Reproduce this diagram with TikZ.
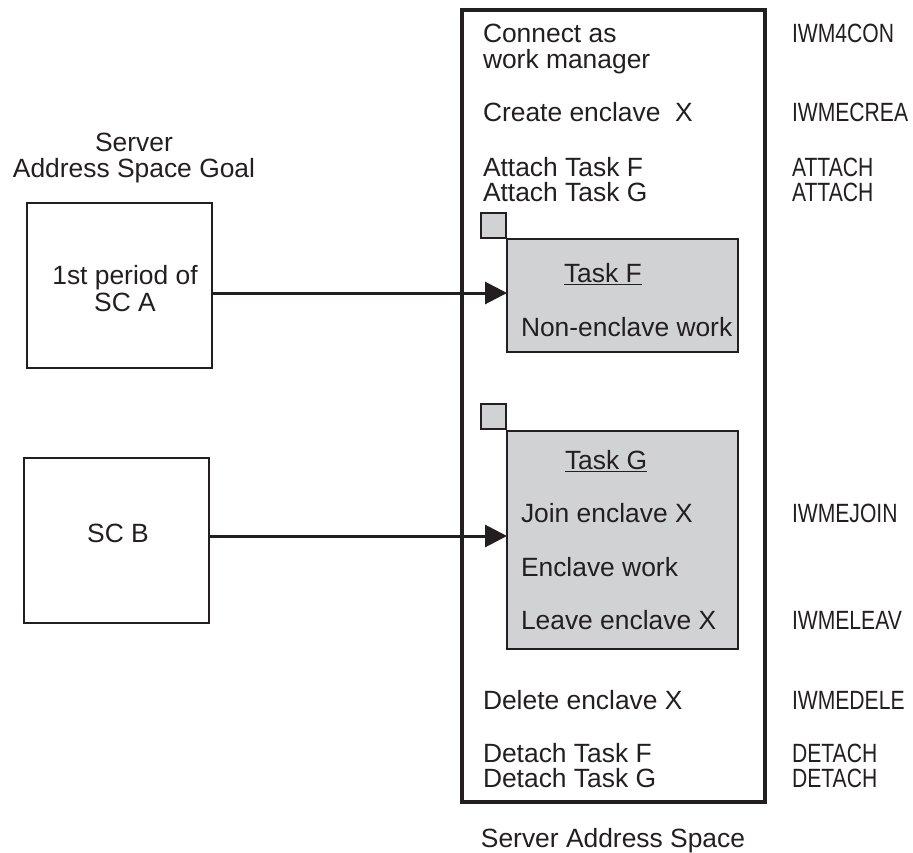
\documentclass[tikz,border=0pt]{standalone}
\usepackage{fontspec}
\setmainfont{Liberation Sans}
\newfontfamily\narrowfont[FakeStretch=0.8]{Liberation Sans}
\usetikzlibrary{arrows.meta}
\definecolor{ink}{HTML}{231F20}
\definecolor{taskgray}{HTML}{D1D2D4}
\begin{document}
\begin{tikzpicture}[x=1pt,y=-1pt,
  every node/.style={inner sep=0pt,outer sep=0pt,text=ink,
    font=\fontsize{26.4}{26}\selectfont},
  frame/.style={draw=ink,line width=3.2pt,anchor=north west},
  plainbox/.style={draw=ink,line width=2.6pt,anchor=north west},
  taskbox/.style={draw=ink,fill=taskgray,line width=2.6pt,anchor=north west},
  marker/.style={draw=ink,fill=taskgray,line width=2.4pt,anchor=north west,
    minimum width=25pt,minimum height=25pt},
  txt/.style={anchor=base west},
  ctxt/.style={anchor=base},
  macro/.style={anchor=base west,font=\narrowfont\fontsize{26.4}{26}\selectfont},
  ul/.style={draw=ink,line width=1.8pt},
  flow/.style={draw=ink,line width=3pt,-{Triangle[length=22pt,width=22pt]}}]
\useasboundingbox (0,0) rectangle (913,852);

% server address space frame
\node[frame,minimum width=303pt,minimum height=792pt] (srv) at (462,10) {};
\node[ctxt] (srvlab) at (613,847) {Server Address Space};

% goal boxes on the left
\node[ctxt] (goal1) at (134,151) {Server};
\node[ctxt] (goal2) at (134,177) {Address Space Goal};
\node[plainbox,minimum width=185pt,minimum height=165pt] (scA) at (27,203) {};
\node[ctxt] (scA1) at (125,284) {1st period of};
\node[ctxt] (scA2) at (125,311) {SC A};
\node[plainbox,minimum width=185pt,minimum height=165pt] (scB) at (24,458) {};
\node[ctxt] (scB1) at (118,542) {SC B};

% work manager steps
\node[txt] (s1a) at (483,42) {Connect as};
\node[txt] (s1b) at (483,68) {work manager};
\node[txt] (s2) at (483,121) {Create enclave\ \ X};
\node[txt] (s3) at (483,176) {Attach Task F};
\node[txt] (s4) at (483,201) {Attach Task G};
\node[txt] (s5) at (483,709) {Delete enclave X};
\node[txt] (s6) at (483,762) {Detach Task F};
\node[txt] (s7) at (483,787) {Detach Task G};

% macros
\node[macro] (m1) at (792,42) {IWM4CON};
\node[macro] (m2) at (792,121) {IWMECREA};
\node[macro] (m3) at (792,176) {ATTACH};
\node[macro] (m4) at (792,201) {ATTACH};
\node[macro] (m5) at (792,522) {IWMEJOIN};
\node[macro] (m6) at (792,629) {IWMELEAV};
\node[macro] (m7) at (792,709) {IWMEDELE};
\node[macro] (m8) at (792,762) {DETACH};
\node[macro] (m9) at (792,787) {DETACH};

% task F
\node[marker] (qF) at (481,213) {};
\node[taskbox,minimum width=231pt,minimum height=113pt] (tF) at (507,239) {};
\node[txt] (tFt) at (564,282) {Task F};
\draw[ul] ([yshift=-2.5pt]tFt.base west) -- ([yshift=-2.5pt]tFt.base east);
\node[txt] (tF1) at (521,336) {Non-enclave work};

% task G
\node[marker] (qG) at (481,404) {};
\node[taskbox,minimum width=231pt,minimum height=218pt] (tG) at (507,431) {};
\node[txt] (tGt) at (565,469) {Task G};
\draw[ul] ([yshift=-2.5pt]tGt.base west) -- ([yshift=-2.5pt]tGt.base east);
\node[txt] (tG1) at (521,522) {Join enclave X};
\node[txt] (tG2) at (521,576) {Enclave work};
\node[txt] (tG3) at (521,629) {Leave enclave X};

% requests routed to the tasks
\draw[flow] ([yshift=-7.5pt]scA.east) -- ([yshift=-7.5pt]scA.east -| tF.west);
\draw[flow] ([yshift=4.5pt]scB.east) -- ([yshift=4.5pt]scB.east -| tG.west);
\end{tikzpicture}
\end{document}
